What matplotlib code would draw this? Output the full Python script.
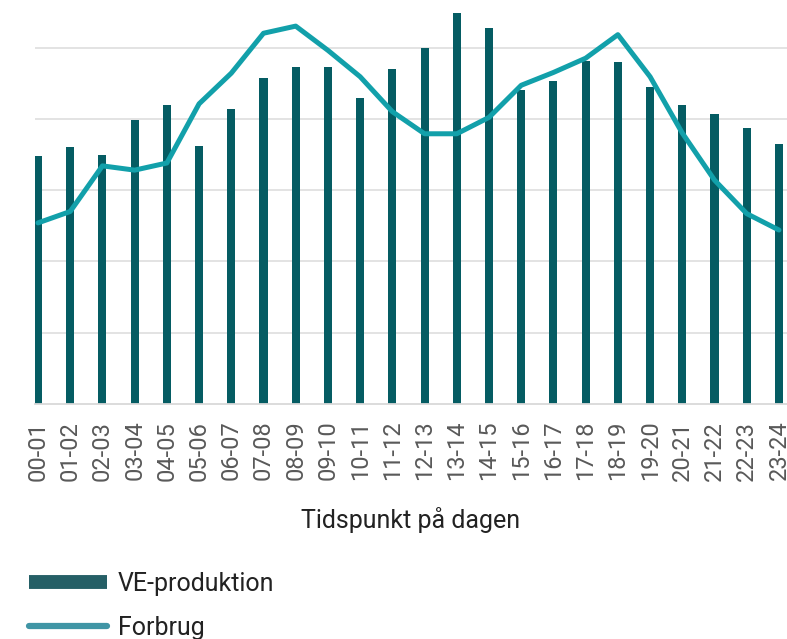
import matplotlib
matplotlib.use("Agg")
import matplotlib.pyplot as plt
from matplotlib.lines import Line2D
import numpy as np

categories = ["00-01", "01-02", "02-03", "03-04", "04-05", "05-06", "06-07", "07-08",
              "08-09", "09-10", "10-11", "11-12", "12-13", "13-14", "14-15", "15-16",
              "16-17", "17-18", "18-19", "19-20", "20-21", "21-22", "22-23", "23-24"]
ve_produktion = [3.48, 3.60, 3.49, 3.99, 4.19, 3.62, 4.14, 4.57, 4.73, 4.73, 4.29, 4.70,
                 4.99, 5.48, 5.28, 4.41, 4.53, 4.81, 4.79, 4.45, 4.20, 4.07, 3.87, 3.65]
forbrug = [2.54, 2.70, 3.34, 3.28, 3.38, 4.21, 4.64, 5.20, 5.30, 4.96, 4.59, 4.10,
           3.79, 3.79, 4.02, 4.47, 4.65, 4.85, 5.18, 4.59, 3.80, 3.14, 2.67, 2.44]

bar_color = "#055c63"
line_color = "#12a0aa"

plt.rcParams["font.family"] = ["Roboto", "DejaVu Sans"]

fig = plt.figure(figsize=(7.87, 6.39), dpi=100)
W, H = 787, 639
left, right, top, bottom = 35, 787, 0, 404
ax = fig.add_axes([left / W, 1 - bottom / H, (right - left) / W, (bottom - top) / H])

x = np.arange(len(categories))
ax.bar(x, ve_produktion, width=0.25, color=bar_color, zorder=2, label="VE-produktion")
ax.plot(x, forbrug, color=line_color, lw=3.6, solid_joinstyle="round",
        solid_capstyle="round", zorder=3, label="Forbrug")

ax.set_xlim(-0.093, 23.25)
ax.set_ylim(0, 404 / 71.3)
ax.set_yticks([1, 2, 3, 4, 5])
ax.yaxis.grid(True, color="#e0e0e0", lw=1.3, zorder=0)
ax.tick_params(axis="y", left=False, labelleft=False)
ax.set_xticks(x)
ax.set_xticklabels(categories, rotation=90, fontsize=17, color="#595959")
ax.tick_params(axis="x", length=0, pad=12)
for s in ["top", "right", "left"]:
    ax.spines[s].set_visible(False)
ax.spines["bottom"].set_color("#d9d9d9")
ax.spines["bottom"].set_linewidth(1.3)
ax.set_xlabel("Tidspunkt på dagen", fontsize=18, color="#222222", labelpad=19)

handles = [Line2D([0], [0], color="#255f66", lw=10, solid_capstyle="butt"),
           Line2D([0], [0], color="#4095a5", lw=4.5, solid_capstyle="round")]
fig.legend(handles, ["VE-produktion", "Forbrug"], loc="upper left",
           bbox_to_anchor=(29 / W, 1 - 572 / H), frameon=False, fontsize=18,
           handlelength=3.1, handletextpad=0.45, labelspacing=0.8, borderpad=0,
           borderaxespad=0, labelcolor="#222222")

fig.savefig("out.png", dpi=100)
